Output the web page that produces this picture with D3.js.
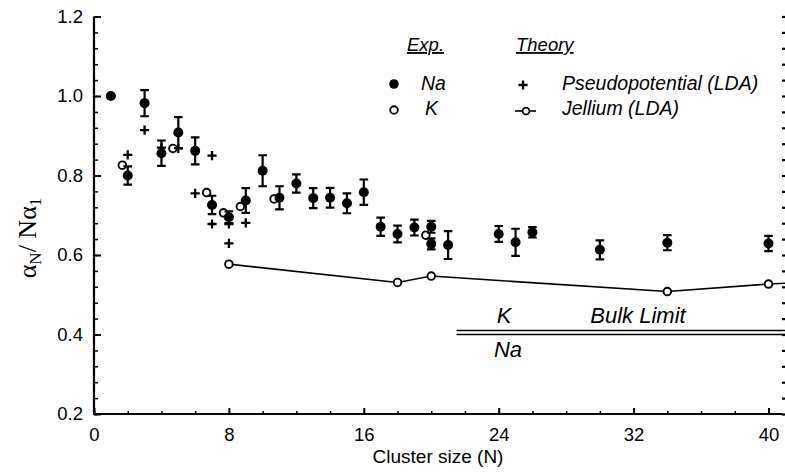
<!DOCTYPE html>
<html><head><meta charset="utf-8">
<script src="https://cdn.jsdelivr.net/npm/d3@7"></script>
<style>
html,body{margin:0;padding:0;background:#fff;}
svg{display:block;}
text{font-family:"Liberation Sans",Arial,Helvetica,sans-serif;fill:#000;}
</style></head><body>
<svg id="chart" width="785" height="473"></svg>
<script>
// ---- data ----
const naN   = [1,2,3,4,5,6,7,8,9,10,11,12,13,14,15,16,17,18,19,20,20,21,24,25,26,30,34,40];
const naVal = [1.00,0.80,0.982,0.856,0.908,0.862,0.726,0.695,0.737,0.812,0.744,0.780,0.743,0.744,0.730,0.758,0.671,0.653,0.669,0.671,0.628,0.625,0.653,0.632,0.657,0.613,0.631,0.629];
const naErr = [0,0.023,0.033,0.032,0.039,0.034,0.023,0.015,0.031,0.039,0.029,0.023,0.025,0.025,0.025,0.032,0.023,0.021,0.020,0.015,0.014,0.035,0.020,0.034,0.013,0.024,0.019,0.019];
const kN    = [2,5,7,8,9,11,20];
const kVal  = [0.826,0.868,0.757,0.706,0.722,0.741,0.650];
const pseudoN   = [2,3,4,5,6,7,7,8,8,9];
const pseudoVal = [0.852,0.914,0.870,0.868,0.755,0.850,0.678,0.678,0.629,0.681];
const jelN   = [8,18,20,34,40];
const jelVal = [0.577,0.531,0.547,0.508,0.527];
const jelTailN = 41, jelTailVal = 0.529;
const bulkK = 0.41, bulkNa = 0.40, bulkFromN = 21.5, bulkToN = 41;
const xMajorTicks = [0,8,16,24,32,40];
const yMajorTicks = [0.2,0.4,0.6,0.8,1.0,1.2];

// ---- scales ----
const svg = d3.select("#chart");
const x = d3.scaleLinear().domain([0,40]).range([94,768.5]);
const y = d3.scaleLinear().domain([0.2,1.2]).range([414,16.5]);
const xRight = x(40.8);
const kDodge = -0.32;

// ---- axes ----
const fmtY = d3.format(".1f");
const xMinor = d3.range(0,41,2);
const yMinor = d3.range(0,26).map(i => +(0.2 + i*0.04).toFixed(2));

svg.append("g").attr("transform",`translate(0,${y(0.2)})`)
  .call(d3.axisBottom(x).tickValues(xMinor).tickSize(-3).tickFormat(""))
  .call(g=>g.select(".domain").remove())
  .call(g=>g.selectAll("line").attr("stroke-width",1.5));
const gx = svg.append("g").attr("transform",`translate(0,${y(0.2)})`)
  .call(d3.axisBottom(x).tickValues(xMajorTicks).tickSize(-6).tickPadding(14).tickFormat(d3.format("d")));
gx.select(".domain").remove();
gx.selectAll("line").attr("stroke-width",2);
gx.selectAll("text").attr("font-size",18.5).attr("font-family","Liberation Sans, Arial, sans-serif");
svg.append("line").attr("x1",x(0)-1).attr("x2",xRight).attr("y1",y(0.2)).attr("y2",y(0.2))
  .attr("stroke","#000").attr("stroke-width",2);

svg.append("g").attr("transform",`translate(${x(0)},0)`)
  .call(d3.axisLeft(y).tickValues(yMinor).tickSize(-4).tickFormat(""))
  .call(g=>g.select(".domain").remove())
  .call(g=>g.selectAll("line").attr("stroke-width",1.5));
const gy = svg.append("g").attr("transform",`translate(${x(0)},0)`)
  .call(d3.axisLeft(y).tickValues(yMajorTicks).tickSize(-7).tickPadding(11).tickFormat(fmtY));
gy.select(".domain").remove();
gy.selectAll("line").attr("stroke-width",2);
gy.selectAll("text").attr("font-size",18.5).attr("font-family","Liberation Sans, Arial, sans-serif");
svg.append("line").attr("x1",x(0)).attr("x2",x(0)).attr("y1",y(1.2)).attr("y2",y(0.2)+1)
  .attr("stroke","#000").attr("stroke-width",2.2);

svg.append("g").attr("transform",`translate(${xRight},0)`)
  .call(d3.axisRight(y).tickValues(yMinor).tickSize(3).tickFormat(""))
  .call(g=>g.select(".domain").remove())
  .call(g=>g.selectAll("line").attr("stroke-width",2.2));

// axis titles
svg.append("text").attr("x",(x(0)+xRight)/2).attr("y",463).attr("text-anchor","middle")
  .attr("font-size",19).text("Cluster size (N)");
const yl = svg.append("text").attr("transform","translate(36,238) rotate(-90)")
  .attr("text-anchor","middle").style("font-family","'Liberation Serif','Times New Roman',serif").attr("font-size",26);
yl.append("tspan").text("α");
yl.append("tspan").attr("font-size",17).attr("dy",5).text("N");
yl.append("tspan").attr("dy",-5).text("/ Nα");
yl.append("tspan").attr("font-size",17).attr("dy",5).text("1");

// ---- bulk limit lines ----
[bulkK,bulkNa].forEach(v=>{
  svg.append("line").attr("x1",x(bulkFromN)).attr("x2",x(bulkToN)).attr("y1",y(v)).attr("y2",y(v))
    .attr("stroke","#000").attr("stroke-width",1.6);
});
svg.append("text").attr("x",504).attr("y",323).attr("text-anchor","middle").attr("font-size",22).attr("font-style","italic").text("K");
svg.append("text").attr("x",638).attr("y",323).attr("text-anchor","middle").attr("font-size",22).attr("font-style","italic").text("Bulk Limit");
svg.append("text").attr("x",508).attr("y",357).attr("text-anchor","middle").attr("font-size",22).attr("font-style","italic").text("Na");

// ---- jellium line ----
const jelLine = jelN.map((n,i)=>[n,jelVal[i]]).concat([[jelTailN,jelTailVal]]);
svg.append("path").datum(jelLine)
  .attr("d",d3.line().x(d=>x(d[0])).y(d=>y(d[1])))
  .attr("fill","none").attr("stroke","#000").attr("stroke-width",1.6);
svg.selectAll(".jel").data(jelN).join("circle")
  .attr("cx",d=>x(d)).attr("cy",(d,i)=>y(jelVal[i])).attr("r",3.8)
  .attr("fill","#fff").attr("stroke","#000").attr("stroke-width",1.9);

// ---- pseudopotential plus ----
const plus = 4.6;
svg.selectAll(".pp").data(pseudoN).join("path")
  .attr("d",(d,i)=>{const cx=x(d), cy=y(pseudoVal[i]);
     return `M${cx-plus},${cy}H${cx+plus}M${cx},${cy-plus}V${cy+plus}`;})
  .attr("stroke","#000").attr("stroke-width",2.3).attr("fill","none");

// ---- K open circles ----
svg.selectAll(".k").data(kN).join("circle")
  .attr("cx",d=>x(d+kDodge)).attr("cy",(d,i)=>y(kVal[i])).attr("r",3.8)
  .attr("fill","#fff").attr("stroke","#000").attr("stroke-width",1.9);

// ---- Na error bars + dots ----
const cap = 4.3;
svg.selectAll(".err").data(naN).join("path")
  .attr("d",(d,i)=>{ if(!naErr[i]) return null;
    const cx=x(d), y1=y(naVal[i]+naErr[i]), y2=y(naVal[i]-naErr[i]);
    return `M${cx},${y1}V${y2}M${cx-cap},${y1}H${cx+cap}M${cx-cap},${y2}H${cx+cap}`;})
  .attr("stroke","#000").attr("stroke-width",2.2).attr("fill","none");
svg.selectAll(".na").data(naN).join("circle")
  .attr("cx",d=>x(d)).attr("cy",(d,i)=>y(naVal[i])).attr("r",5)
  .attr("fill","#000");

// ---- legend ----
const lg = svg.append("g");
const it = (t,xx,yy,fs)=>lg.append("text").attr("x",xx).attr("y",yy).attr("font-size",fs||19.5)
   .attr("font-style","italic").text(t);
it("Exp.",407,51,18.5).attr("text-decoration","underline");
it("Theory",516,51,18.5).attr("text-decoration","underline");
lg.append("circle").attr("cx",394).attr("cy",84).attr("r",4.8).attr("fill","#000");
it("Na",421,90);
lg.append("path").attr("d",`M${523-plus},85H${523+plus}M523,${85-plus}V${85+plus}`).attr("stroke","#000").attr("stroke-width",2.3);
it("Pseudopotential (LDA)",562,90);
lg.append("circle").attr("cx",394).attr("cy",110).attr("r",3.8).attr("fill","#fff").attr("stroke","#000").attr("stroke-width",1.9);
it("K",425,115);
lg.append("line").attr("x1",515).attr("x2",536).attr("y1",111).attr("y2",111).attr("stroke","#000").attr("stroke-width",1.6);
lg.append("circle").attr("cx",526).attr("cy",111).attr("r",3.4).attr("fill","#fff").attr("stroke","#000").attr("stroke-width",1.7);
it("Jellium (LDA)",562,115);
</script>
</body></html>
